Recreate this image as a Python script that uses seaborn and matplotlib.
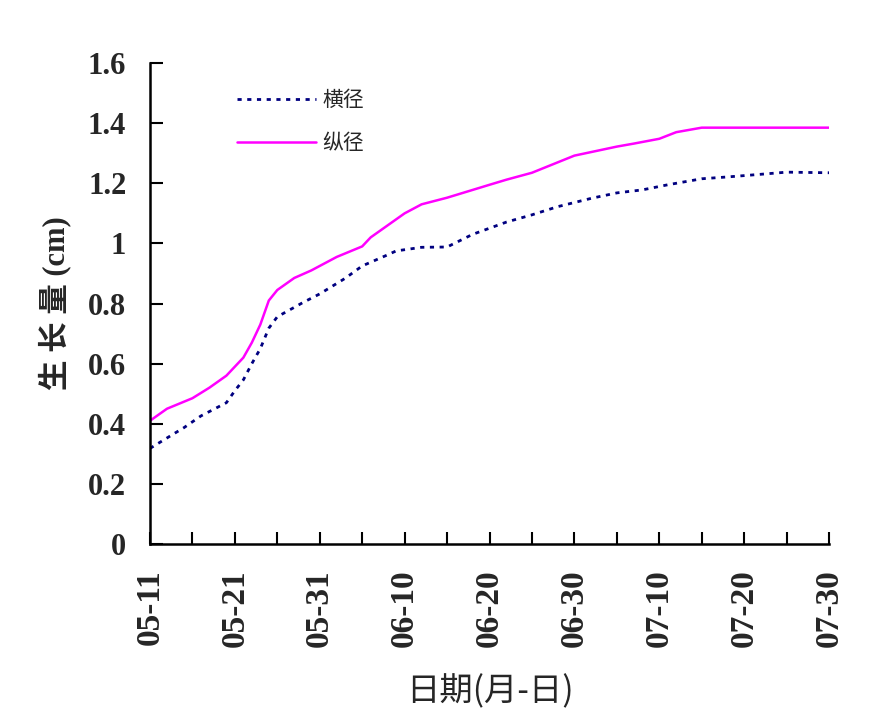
import pandas as pd
import matplotlib
matplotlib.use('Agg')
import matplotlib.pyplot as plt
import seaborn as sns

# 横径 (transverse diameter)
heng_dates = ['05-11', '05-14', '05-15', '05-17', '05-20', '05-21', '05-22', '05-23',
              '05-24', '05-25', '05-26', '05-29', '05-31', '06-03', '06-05', '06-08',
              '06-09', '06-12', '06-15', '06-18', '06-22', '06-25', '06-28', '07-02',
              '07-05', '07-08', '07-11', '07-15', '07-18', '07-22', '07-25', '07-30']
heng_values = [0.318, 0.37, 0.387, 0.426, 0.47, 0.51, 0.546, 0.60,
               0.65, 0.718, 0.756, 0.803, 0.832, 0.884, 0.925, 0.962,
               0.975, 0.987, 0.988, 1.03, 1.071, 1.095, 1.122, 1.150,
               1.168, 1.178, 1.195, 1.215, 1.221, 1.230, 1.237, 1.235]

# 纵径 (longitudinal diameter)
zong_dates = ['05-11', '05-13', '05-16', '05-18', '05-20', '05-22', '05-23', '05-24',
              '05-25', '05-26', '05-28', '05-30', '06-02', '06-05', '06-06', '06-10',
              '06-12', '06-15', '06-20', '06-22', '06-25', '06-30', '07-05', '07-07',
              '07-10', '07-12', '07-15', '07-20', '07-25', '07-30']
zong_values = [0.41, 0.45, 0.485, 0.52, 0.56, 0.62, 0.67, 0.73,
               0.81, 0.845, 0.885, 0.91, 0.955, 0.99, 1.02, 1.10,
               1.13, 1.152, 1.195, 1.212, 1.235, 1.292, 1.322, 1.332,
               1.348, 1.37, 1.385, 1.385, 1.385, 1.385]

tick_labels = ['05-11', '05-21', '05-31', '06-10', '06-20', '06-30', '07-10', '07-20', '07-30']
y_ticks = [0, 0.2, 0.4, 0.6, 0.8, 1.0, 1.2, 1.4, 1.6]
y_tick_labels = ['0', '0.2', '0.4', '0.6', '0.8', '1', '1.2', '1.4', '1.6']

YEAR = '2010-'


def to_dates(lst):
    return pd.to_datetime([YEAR + d for d in lst])


def main():
    sns.set_style("white")
    plt.rcParams['font.family'] = ['Liberation Serif', 'Noto Sans CJK SC']

    heng = pd.DataFrame({'date': to_dates(heng_dates), 'value': heng_values})
    zong = pd.DataFrame({'date': to_dates(zong_dates), 'value': zong_values})

    fig = plt.figure(figsize=(8.88, 7.09), dpi=100)
    ax = fig.add_axes([0.1689, 0.2327, 0.7647, 0.6784])

    sns.lineplot(data=heng, x='date', y='value', ax=ax, color='#000080',
                 linewidth=2.0, linestyle=(0, (1.5, 2.0)), label='横径')
    sns.lineplot(data=zong, x='date', y='value', ax=ax, color='#FF00FF',
                 linewidth=1.8, label='纵径')

    major = to_dates(tick_labels)
    minor = pd.date_range(major[0], major[-1], freq='5D')
    ax.set_xlim(major[0], major[-1])
    ax.set_xticks(major)
    ax.set_xticks(minor, minor=True)
    ax.set_xticklabels(tick_labels, rotation=90, fontsize=24, fontweight='bold',
                       family=['Liberation Serif'])
    ax.set_ylim(0, 1.6)
    ax.set_yticks(y_ticks)
    ax.set_yticklabels(y_tick_labels, fontsize=22, fontweight='bold',
                       family=['Liberation Serif'])

    ax.tick_params(axis='both', which='both', direction='in', length=9, width=1.5,
                   color='black', bottom=True, left=True)
    ax.tick_params(axis='x', which='major', pad=18)
    ax.tick_params(axis='y', which='major', pad=17)

    for side in ['top', 'right']:
        ax.spines[side].set_visible(False)
    for side in ['left', 'bottom']:
        ax.spines[side].set_color('black')
        ax.spines[side].set_linewidth(1.8)

    ax.set_xlabel('日期(月-日)', fontsize=24, family=['Noto Sans CJK SC'], labelpad=20)
    ax.set_ylabel('生 长 量 (cm)', fontsize=22, fontweight='bold',
                  family=['Liberation Serif', 'Noto Sans CJK SC'], labelpad=12)

    ax.legend(loc='upper left', bbox_to_anchor=(0.1, 0.985), frameon=False,
              handlelength=3.8, labelspacing=1.0, handletextpad=0.3,
              prop={'family': ['Noto Sans CJK SC'], 'size': 15})

    fig.savefig('out.png', dpi=100)
    plt.close(fig)


if __name__ == "__main__":
    main()
